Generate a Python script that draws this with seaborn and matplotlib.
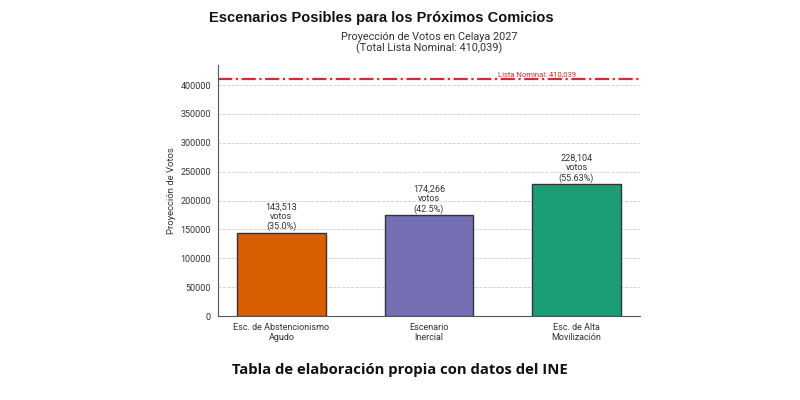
import matplotlib
matplotlib.use('Agg')
import matplotlib.pyplot as plt
import seaborn as sns
import pandas as pd

# datos del gráfico
escenarios = ['Esc. de Abstencionismo\nAgudo', 'Escenario\nInercial', 'Esc. de Alta\nMovilización']
votos = [143513, 174266, 228104]
porcentajes = ['35.0%', '42.5%', '55.63%']
colores = ['#d95f02', '#7570b3', '#1b9e77']
lista_nominal = 410039

sns.set_theme(style='whitegrid')
plt.rcParams['font.family'] = ['Roboto', 'DejaVu Sans']

df = pd.DataFrame({'Escenario': escenarios, 'Votos': votos})

fig = plt.figure(figsize=(8, 4), dpi=100)
ax = fig.add_axes([0.2725, 0.21, 0.5275, 0.6275])

sns.barplot(data=df, x='Escenario', y='Votos', hue='Escenario', palette=colores,
            width=0.6, saturation=1, edgecolor='#333333', linewidth=1, legend=False, ax=ax)

ax.axhline(lista_nominal, color='#e0262b', linestyle='-.', linewidth=1.6)
ax.text(2.0, lista_nominal + 3000, f'Lista Nominal: {lista_nominal:,}', color='#e0262b',
        fontsize=5.5, ha='right', va='bottom')

for i, (v, p) in enumerate(zip(votos, porcentajes)):
    ax.text(i, v + 3000, f'{v:,}\nvotos\n({p})', ha='center', va='bottom',
            fontsize=6.5, color='#333333', linespacing=1.1)

ax.set_xlim(-0.43, 2.43)
ax.set_ylim(0, lista_nominal * 1.06)
ax.set_yticks(range(0, 400001, 50000))
ax.grid(axis='y', linestyle='--', color='#cccccc', linewidth=0.6)
ax.grid(axis='x', visible=False)
ax.set_facecolor('white')
for s in ['top', 'right']:
    ax.spines[s].set_visible(False)
for s in ['left', 'bottom']:
    ax.spines[s].set_color('#555555')
    ax.spines[s].set_linewidth(0.8)
ax.tick_params(axis='both', labelsize=6.5, colors='#555555', labelcolor='#333333',
               length=3, width=0.6, pad=2)
ax.set_xlabel('')
ax.set_ylabel('Proyección de Votos', fontsize=6.8, color='#333333', labelpad=3)
ax.set_title('Proyección de Votos en Celaya 2027\n(Total Lista Nominal: 410,039)',
             fontsize=7.8, color='#333333', pad=10, linespacing=1.0)

fig.text(0.477, 0.955, 'Escenarios Posibles para los Próximos Comicios',
         fontsize=10.5, fontweight='bold', ha='center', va='center',
         family=['Liberation Sans', 'DejaVu Sans'], color='#111111')
fig.text(0.5, 0.075, 'Tabla de elaboración propia con datos del INE',
         fontsize=10.7, fontweight='bold', ha='center', va='center',
         family=['Open Sans', 'DejaVu Sans'], color='#111111')

fig.savefig('out.png', dpi=100, facecolor='white')
